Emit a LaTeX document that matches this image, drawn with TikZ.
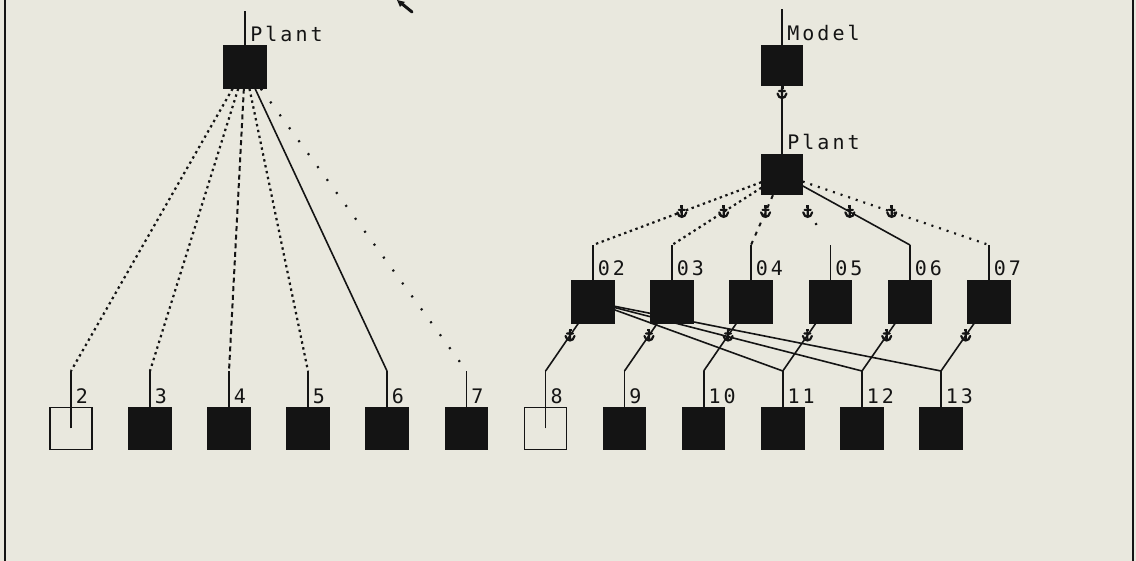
\documentclass[tikz,border=0pt]{standalone}
\usepackage{fontspec}
\newfontfamily\plotfont[LetterSpace=15]{DejaVu Sans Mono}
\usetikzlibrary{calc}
\definecolor{paper}{RGB}{233,232,222}
\definecolor{ink}{RGB}{20,20,20}
\tikzset{
  blk/.style={draw=ink,fill=ink,minimum size=21pt,inner sep=0pt,line width=0.7pt},
  hol/.style={draw=ink,minimum size=21pt,inner sep=0pt,line width=0.7pt},
  lbl/.style={anchor=base west,inner sep=0pt,text=ink,font=\plotfont\fontsize{10}{12}\selectfont},
  ln/.style={draw=ink,line width=0.8pt},
  dots/.style={ln,line width=1.1pt,dash pattern=on 1.2pt off 1.8pt},
  dotm/.style={ln,line width=1.1pt,dash pattern=on 1pt off 3pt},
  loose/.style={ln,line width=1.1pt,dash pattern=on 1pt off 7pt},
  sparse/.style={ln,line width=1.1pt,dash pattern=on 0pt off 17pt on 1pt off 40pt},
  dsh/.style={ln,line width=1pt,dash pattern=on 2.5pt off 1.8pt},
  dshs/.style={ln,line width=1pt,dash pattern=on 2pt off 3pt},
  anc/.pic={\draw[ink,line width=1.1pt,line cap=round]
    (0,-5) -- (0,5) (-3,-2) -- (3,-2)
    (-4.5,0.5) .. controls (-3.5,6.5) and (3.5,6.5) .. (4.5,0.5);
    \fill[ink] (-1.5,-6.5) rectangle (1.5,-4);}
}
\begin{document}
\begin{tikzpicture}[x=0.5pt,y=-0.5pt]
	\fill[paper] (0,0) rectangle (1136,561);
	\useasboundingbox (0,0) rectangle (1136,561);
	\draw[ink,line width=1.4pt] (5,0) -- (5,561) (1133,0) -- (1133,561);
	% cursor
	\fill[ink] (397,0) -- (405,2) -- (400,7) -- cycle;
	\draw[ink,line width=1.5pt,line cap=round] (401,3) -- (412,12);
	% left tree
	\node[blk] (lp) at (245,67) {};
	\coordinate (lptop) at (245,11);
	\draw[ln] (lp.center) -- (lptop);
	\node[lbl] (lpl) at (250,42) {Plant};
	% bottom row
	\foreach \i/\x/\s in {2/71/hol,3/150/blk,4/229/blk,5/308/blk,6/387/blk,7/466.5/blk,
	                      8/545.6/hol,9/624.5/blk,10/703.7/blk,11/782.8/blk,12/862/blk,13/941/blk}{
		\node[\s] (b\i) at (\x,428.5) {};
		\coordinate (t\i) at (\x,371);
		\draw[ln] (b\i.center) -- (t\i);
		\node[lbl] (l\i) at (\x+4.5,403) {\i};
	}
	\foreach \i/\s in {2/dots,3/dots,4/dsh,5/dots,6/ln,7/loose}
		\draw[\s] (lp) -- (t\i);
	% right tree
	\node[blk,minimum size=20pt] (md) at (782,65.5) {};
	\node[blk,minimum size=20pt] (rp) at (782,174.5) {};
	\coordinate (mdtop) at (782,9);
	\draw[ln] (md.center) -- (mdtop);
	\draw[ln] (md) -- (rp);
	\pic at (782,93) {anc};
	\node[lbl] (mdl) at (787,41) {Model};
	\node[lbl] (rpl) at (787,150) {Plant};
	\foreach \i/\x in {02/593,03/672,04/751,05/830.5,06/910,07/989}{
		\node[blk] (m\i) at (\x,302) {};
		\coordinate (u\i) at (\x,245);
		\draw[ln] (m\i.center) -- (u\i);
		\node[lbl] (k\i) at (\x+4.5,276) {\i};
	}
	\foreach \i/\s in {02/dots,03/dots,04/dshs,05/sparse,06/ln,07/dotm}{
		\draw[\s] (rp) -- (u\i);
		\pic at ($(rp.center)!0.53!(u\i)$) {anc};
	}
	\foreach \i/\j in {02/8,03/9,04/10,05/11,06/12,07/13}{
		\draw[ln] (m\i) -- (t\j);
		\pic at ($(m\i.center)!0.485!(t\j)$) {anc};
	}
	\foreach \j in {11,12,13}
		\draw[ln] (m02) -- (t\j);
\end{tikzpicture}
\end{document}
